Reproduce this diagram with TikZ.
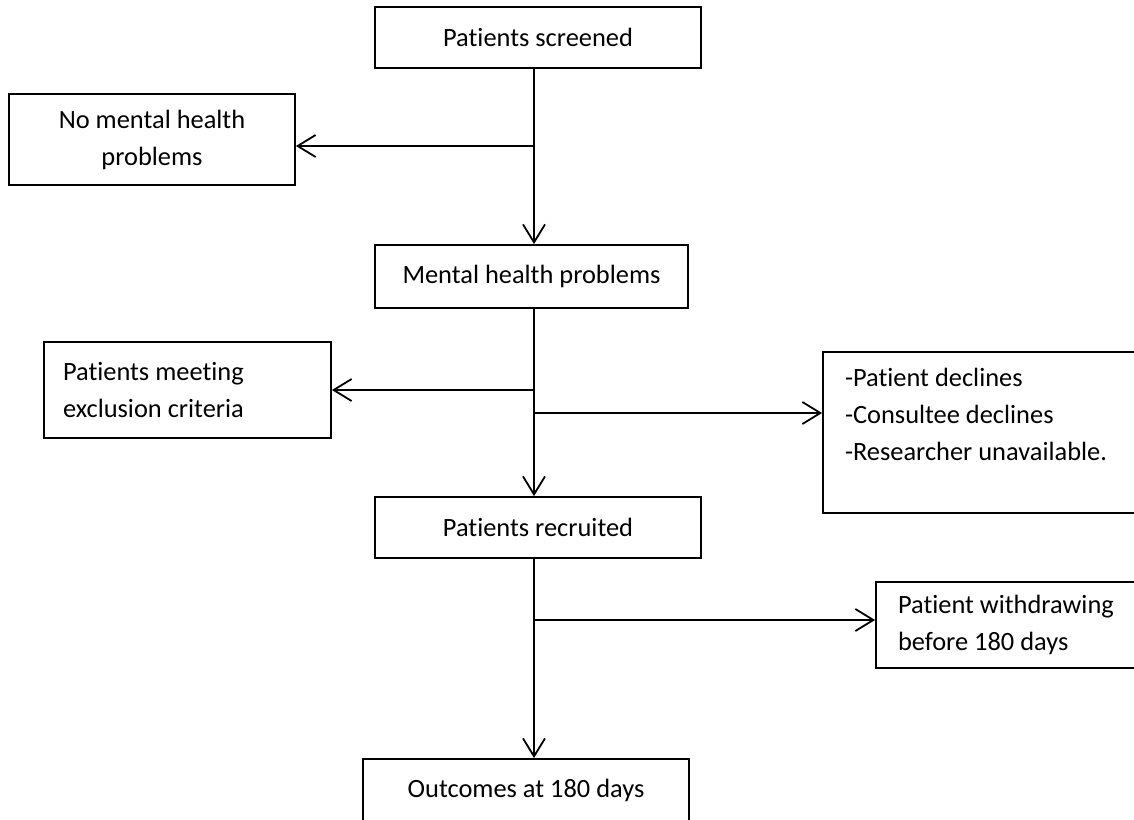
\documentclass[tikz,border=0pt]{standalone}
\usepackage{fontspec}
\setmainfont{Carlito}[Ligatures=NoCommon]
\usetikzlibrary{arrows.meta}

\begin{document}
\begin{tikzpicture}[x=1pt, y=-1pt,
  box/.style={draw, line width=1.8pt, inner sep=0pt, font=\fontsize{26.4}{37}\selectfont},
  flow/.style={line width=1.8pt, -{Straight Barb[length=18pt,width=22pt]}}]
  \useasboundingbox (0,0) rectangle (1134,819);
  \clip (0,0) rectangle (1134,819);

  \node[box, minimum width=326pt, minimum height=61pt] (screened) at (538,37.5) {Patients screened};
  \node[box, minimum width=286pt, minimum height=91pt, align=center] (nomental) at (152,139.5) {No mental health\\problems};
  \node[box, minimum width=313pt, minimum height=63pt] (mentalhp) at (531.5,276.5) {Mental health problems};
  \node[box, inner xsep=19pt, text width=249pt, minimum height=96pt, align=flush left] (exclusion) at (187.5,390) {Patients meeting\\exclusion criteria};
  \node[box, inner xsep=22pt, text width=293pt, minimum height=161pt, align=flush left] (declines) at (991.5,432.5) {-Patient declines\\-Consultee declines\\-Researcher unavailable.\\\mbox{}};
  \node[box, minimum width=326pt, minimum height=61pt] (recruited) at (538,527.5) {Patients recruited};
  \node[box, inner xsep=22pt, text width=240pt, minimum height=86pt, align=flush left] (withdraw) at (1018,625) {Patient withdrawing\\before 180 days};
  \node[box, minimum width=326pt, minimum height=63pt] (outcomes) at (526,790.5) {Outcomes at 180 days};

  \coordinate (j1) at (534,146);
  \coordinate (j2) at (534,390);
  \coordinate (j3) at (534,413);
  \coordinate (j4) at (534,620);

  \draw[flow] (j1 |- screened.south) -- (j1 |- mentalhp.north);
  \draw[flow] (j1) -- (j1 -| nomental.east);
  \draw[flow] (j2 |- mentalhp.south) -- (j2 |- recruited.north);
  \draw[flow] (j2) -- (j2 -| exclusion.east);
  \draw[flow] (j3) -- (j3 -| declines.west);
  \draw[flow] (j4 |- recruited.south) -- (j4 |- outcomes.north);
  \draw[flow] (j4) -- (j4 -| withdraw.west);
\end{tikzpicture}
\end{document}
